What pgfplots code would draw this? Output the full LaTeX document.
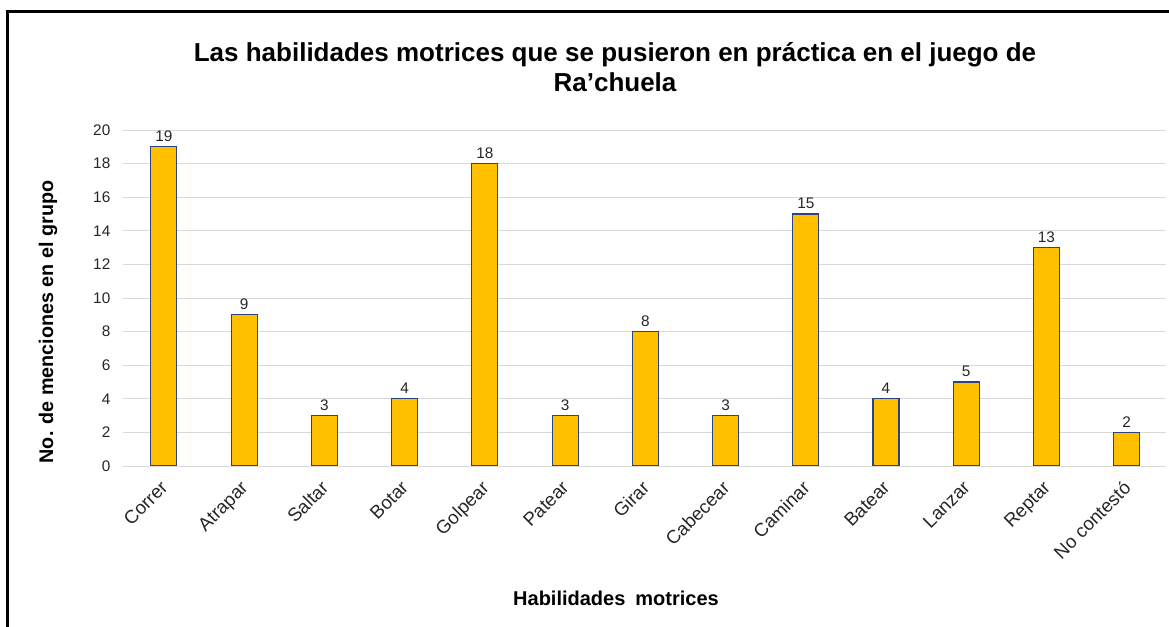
\documentclass[border=0pt]{standalone}
\usepackage{fontspec}
\setmainfont{Liberation Sans}
\usepackage{pgfplots}
\pgfplotsset{compat=1.18}
\definecolor{barfill}{HTML}{FFC000}
\definecolor{baredge}{HTML}{2F4382}
\definecolor{gridc}{HTML}{D9D9D9}
\definecolor{txt}{HTML}{262626}
\begin{document}
\begin{tikzpicture}
\useasboundingbox (0,0) rectangle (876.75pt,470.25pt);
\draw[line width=2.25pt] (5.25pt,0) -- (5.25pt,461.25pt) -- (876.75pt,461.25pt);
\node[align=center, font=\bfseries\fontsize{19.5}{22.5}\selectfont] at (461.25pt,420pt)
  {Las habilidades motrices que se pusieron en práctica en el juego de\\Ra’chuela};
\node[rotate=90, font=\bfseries\fontsize{14.8}{17}\selectfont] at (36pt,228.75pt)
  {No. de menciones en el grupo};
\node[font=\bfseries\fontsize{15}{17}\selectfont] at (462pt,21.75pt)
  {Habilidades\hspace{0.5em}motrices};
\begin{axis}[
  at={(92.25pt,120.75pt)}, anchor=south west,
  scale only axis, width=782.25pt, height=252pt,
  ybar, bar width=19.5pt,
  xmin=-0.51, xmax=12.49, ymin=0, ymax=20,
  ytick={0,2,...,20},
  xtick={0,...,12},
  xticklabels={Correr,Atrapar,Saltar,Botar,Golpear,Patear,Girar,Cabecear,Caminar,Batear,Lanzar,Reptar,No contestó},
  ymajorgrids, grid style={gridc, line width=0.7pt},
  axis line style={draw=none},
  major tick length=0pt,
  /pgf/number format/assume math mode=true,
  tick label style={text=txt},
  yticklabel style={font=\fontsize{11.5}{13}\selectfont, xshift=-6pt},
  x tick label style={font=\fontsize{14}{16}\selectfont, xshift=-3.3pt, yshift=-8.7pt, rotate=45, anchor=north east, inner sep=1pt},
  nodes near coords,
  every node near coord/.append style={font=\fontsize{11.5}{13}\selectfont, text=txt},
]
\addplot[fill=barfill, draw=baredge, line width=0.8pt] coordinates {
  (0,19) (1,9) (2,3) (3,4) (4,18) (5,3) (6,8) (7,3) (8,15) (9,4) (10,5) (11,13) (12,2)
};
\end{axis}
\end{tikzpicture}
\end{document}
